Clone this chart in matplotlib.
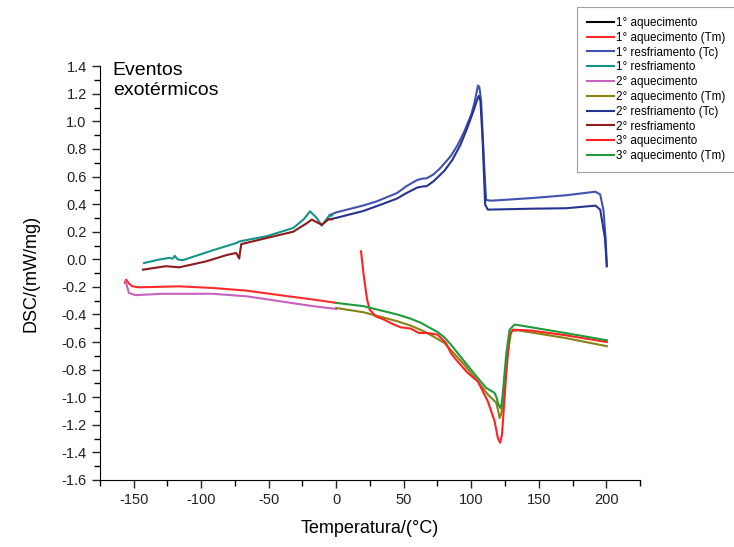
import matplotlib
matplotlib.use("Agg")
import matplotlib.pyplot as plt
from matplotlib.ticker import MultipleLocator

plt.rcParams['font.family'] = ['Liberation Sans', 'DejaVu Sans']
plt.rcParams['axes.unicode_minus'] = False

# DSC curves (T in C, DSC in mW/mg)
resf1_tc_T = [-5, 0, 20, 30, 45, 52, 60, 64, 67, 72, 77, 85, 90, 95, 100, 102, 104, 105, 106, 107.3, 109.7, 111, 115, 145, 170, 192, 195.5, 198, 199.5, 200.4]
resf1_tc_y = [0.32, 0.34, 0.39, 0.42, 0.48, 0.53, 0.575, 0.585, 0.587, 0.615, 0.66, 0.75, 0.83, 0.93, 1.05, 1.12, 1.21, 1.26, 1.25, 1.15, 0.66, 0.43, 0.425, 0.444, 0.464, 0.49, 0.47, 0.35, 0.15, -0.05]

resf2_tc_T = [-5, 0, 20, 30, 45, 52, 60, 64, 67, 72, 80, 86, 92, 97, 102, 104.5, 105.6, 106.8, 108.5, 110.3, 112.3, 145, 170, 192, 195.5, 199, 200.4]
resf2_tc_y = [0.29, 0.30, 0.35, 0.385, 0.44, 0.48, 0.52, 0.528, 0.53, 0.565, 0.64, 0.72, 0.83, 0.95, 1.085, 1.16, 1.185, 1.15, 0.85, 0.396, 0.36, 0.367, 0.37, 0.389, 0.36, 0.155, -0.05]

resf1_T = [-142.3, -131, -123.7, -121, -119.5, -117.5, -113.8, -91.4, -74, -71.5, -51.6, -31.8, -24, -19.4, -14.4, -10.7, -5.7, -3]
resf1_y = [-0.027, -0.002, 0.01, 0.005, 0.025, 0.0, -0.007, 0.065, 0.118, 0.13, 0.167, 0.227, 0.29, 0.348, 0.30, 0.244, 0.31, 0.32]

resf2_T = [-143, -126.1, -116.2, -96.3, -81.4, -74, -71.8, -71.2, -70.3, -51.6, -31.8, -22, -18.1, -10.7, -5.7, -3]
resf2_y = [-0.075, -0.05, -0.058, -0.015, 0.03, 0.046, 0.005, 0.05, 0.11, 0.154, 0.2, 0.26, 0.288, 0.25, 0.29, 0.29]

aq1_tm_T = [-156.5, -155.5, -153.5, -151, -146, -116, -91.4, -66.5, -41.7, -16.9, 0]
aq1_tm_y = [-0.17, -0.147, -0.175, -0.196, -0.203, -0.196, -0.208, -0.227, -0.26, -0.292, -0.316]

aq2_T = [-156, -155, -153.5, -148.5, -128.6, -91.4, -66.5, -41.7, -16.9, 0]
aq2_y = [-0.16, -0.19, -0.244, -0.26, -0.25, -0.25, -0.268, -0.304, -0.34, -0.36]

aq3_tm_T = [0, 20.3, 45.2, 55, 62.6, 75, 80, 84.9, 94.8, 104.8, 111, 115, 117.2, 118.7, 120, 121.4, 122.5, 123.5, 125.9, 128.4, 132.1, 144.5, 169.4, 200.4]
aq3_tm_y = [-0.316, -0.34, -0.40, -0.43, -0.46, -0.527, -0.565, -0.618, -0.739, -0.86, -0.932, -0.955, -0.968, -1.0, -1.05, -1.077, -1.05, -0.96, -0.69, -0.51, -0.473, -0.493, -0.534, -0.587]

aq2_tm_T = [0, 20.3, 45.2, 55, 65, 72, 80, 87, 94.8, 104.8, 112.3, 116, 118.5, 120, 121, 122.3, 123.5, 125.9, 129.6, 134.6, 169.4, 200.4]
aq2_tm_y = [-0.353, -0.384, -0.449, -0.48, -0.522, -0.56, -0.606, -0.68, -0.764, -0.884, -0.98, -1.015, -1.04, -1.1, -1.15, -1.12, -1.02, -0.75, -0.52, -0.515, -0.57, -0.63]

aq3_T = [18.4, 20.3, 22.9, 24.8, 29.1, 35.3, 42.7, 47.7, 55.1, 61.3, 67.6, 75, 81.2, 84.9, 88.7, 97.4, 104.8, 112.3, 117.2, 119.7, 121.4, 122.8, 125.9, 128.4, 130.9, 144.5, 169.4, 200.4]
aq3_y = [0.058, -0.11, -0.292, -0.364, -0.413, -0.437, -0.473, -0.493, -0.502, -0.534, -0.534, -0.546, -0.606, -0.679, -0.727, -0.824, -0.884, -1.03, -1.17, -1.295, -1.33, -1.27, -0.83, -0.55, -0.51, -0.517, -0.55, -0.6]

fig = plt.figure(figsize=(7.34, 5.47), dpi=100)
ax = fig.add_axes([0.136, 0.1225, 0.736, 0.7565])

lw = 1.5
ax.plot([], [], color='black', lw=lw, label='1° aquecimento')
ax.plot(aq1_tm_T, aq1_tm_y, color='#ff2a2a', lw=lw, label='1° aquecimento (Tm)')
ax.plot(resf1_tc_T, resf1_tc_y, color='#4152b0', lw=lw, label='1° resfriamento (Tc)')
ax.plot(resf1_T, resf1_y, color='#139488', lw=lw, label='1° resfriamento')
ax.plot(aq2_T, aq2_y, color='#c862c0', lw=lw, label='2° aquecimento')
ax.plot(aq2_tm_T, aq2_tm_y, color='#878313', lw=lw, label='2° aquecimento (Tm)')
ax.plot(resf2_tc_T, resf2_tc_y, color='#28338f', lw=lw, label='2° resfriamento (Tc)')
ax.plot(resf2_T, resf2_y, color='#8e1b1b', lw=lw, label='2° resfriamento')
ax.plot(aq3_T, aq3_y, color='#ff2222', lw=lw, label='3° aquecimento')
ax.plot(aq3_tm_T, aq3_tm_y, color='#1f9b3c', lw=lw, label='3° aquecimento (Tm)')

ax.set_xlim(-175, 225)
ax.set_ylim(-1.6, 1.4)
ax.xaxis.set_minor_locator(MultipleLocator(25))
ax.yaxis.set_minor_locator(MultipleLocator(0.1))
ax.set_xticks([-150, -100, -50, 0, 50, 100, 150, 200])
yt = [round(-1.6 + 0.2 * i, 1) for i in range(16)]
ax.set_yticks(yt)
ax.set_yticklabels(['%.1f' % v for v in yt])

for s in ['top', 'right']:
    ax.spines[s].set_visible(False)
ax.tick_params(which='major', direction='out', length=6, width=1, labelsize=10.5, colors='#222222')
ax.tick_params(which='minor', direction='out', length=4, width=1)

ax.set_xlabel('Temperatura/(°C)', fontsize=13, labelpad=9)
ax.set_ylabel('DSC/(mW/mg)', fontsize=13, labelpad=16)

ax.text(0.024, 1.01, 'Eventos\nexotérmicos', transform=ax.transAxes, fontsize=14,
        va='top', ha='left', linespacing=1.25)

leg = ax.legend(loc='upper left', bbox_to_anchor=(577 / 734, 1 - 7 / 547),
                bbox_transform=fig.transFigure, borderaxespad=0, fontsize=8.4,
                frameon=True, fancybox=False, edgecolor='#888888', handlelength=2.3,
                handletextpad=0.15, labelspacing=0.24, borderpad=0.85)
leg.get_frame().set_linewidth(0.8)

fig.savefig('out.png', dpi=100)
